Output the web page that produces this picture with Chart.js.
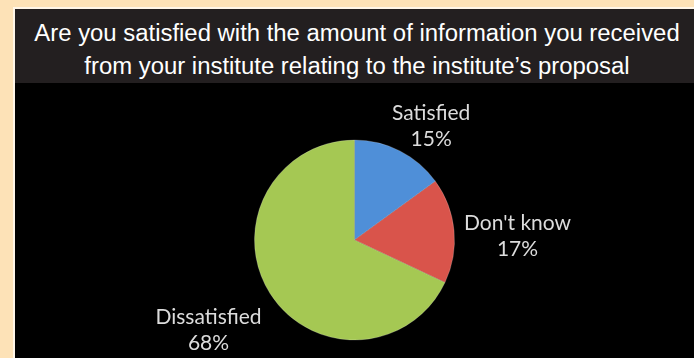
<!DOCTYPE html>
<html>
<head>
<meta charset="utf-8">
<script src="https://cdn.jsdelivr.net/npm/chart.js@4"></script>
<style>
  html, body { margin: 0; padding: 0; }
  body { width: 694px; height: 358px; background: #fde2b7; overflow: hidden; position: relative; }
  #panel { position: absolute; left: 13px; top: 7px; width: 700px; height: 400px;
           border-left: 2px solid #fff6e8; border-top: 2px solid #fff6e8; box-sizing: border-box;
           box-shadow: inset 1px 1px 0 #6e6a66; }
  #titleBand { position: absolute; left: 15px; top: 9px; right: 0; height: 74px; background: #231f20; }
  .tl { position: absolute; left: 357px; white-space: nowrap; color: #fff;
        font-family: "Liberation Sans", Arial, sans-serif; font-size: 23px; line-height: 23px;
        transform-origin: center; }
  #plot { position: absolute; left: 15px; top: 83px; width: 679px; height: 275px; background: #000; }
  #plot canvas { filter: blur(0.5px); }
</style>
</head>
<body>
<div id="panel"></div>
<div id="titleBand"></div>
<div class="tl" id="line1" style="top:22px">Are you satisfied with the amount of information you received</div>
<div class="tl" id="line2" style="top:55px">from your institute relating to the institute’s proposal</div>
<div id="plot"><canvas id="pieChart" width="679" height="275"></canvas></div>

<script>
// Survey answers
const categories = ['Satisfied', "Don't know", 'Dissatisfied'];
const percentages = [15, 17, 68];
const sliceColors = ['#4f8fd8', '#d9544b', '#a5c853'];

const LINE_H = 26;

// squeeze the title lines to the band width (the font is a condensed face)
(function fitTitle() {
  const l1 = document.getElementById('line1');
  const l2 = document.getElementById('line2');
  const s = 645 / l1.offsetWidth;
  [l1, l2].forEach(el => { el.style.transform = 'translateX(-50%) scaleX(' + s + ')'; });
})();

function shade(hex, amt) {
  const n = parseInt(hex.slice(1), 16);
  const c = [(n >> 16) & 255, (n >> 8) & 255, n & 255].map(v =>
    Math.max(0, Math.min(255, Math.round(amt >= 0 ? v + (255 - v) * amt : v * (1 + amt)))));
  return 'rgb(' + c.join(',') + ')';
}

// slice fill: flat centre, light bevel near the rim
function sliceFill(context) {
  const base = sliceColors[context.dataIndex];
  const arc = context.element;
  if (!arc || !arc.outerRadius) return base;
  const { x, y, outerRadius } = arc;
  const g = context.chart.ctx.createRadialGradient(x, y, 0, x, y, outerRadius);
  g.addColorStop(0, base);
  g.addColorStop(0.82, base);
  g.addColorStop(0.95, shade(base, 0.12));
  g.addColorStop(1, shade(base, -0.15));
  return g;
}

const clamp1 = v => Math.max(-1, Math.min(1, v));

// category name and percentage outside each slice
const sliceLabels = {
  id: 'sliceLabels',
  afterDatasetsDraw(chart) {
    const ctx = chart.ctx;
    const meta = chart.getDatasetMeta(0);
    ctx.save();
    ctx.font = '21px Lato, "Open Sans", sans-serif';
    ctx.fillStyle = '#dcdcdc';
    ctx.textAlign = 'center';
    ctx.textBaseline = 'middle';
    meta.data.forEach((arc, i) => {
      const { x, y, startAngle, endAngle, outerRadius } =
        arc.getProps(['x', 'y', 'startAngle', 'endAngle', 'outerRadius'], true);
      const mid = (startAngle + endAngle) / 2;
      const lines = [categories[i], percentages[i] + '%'];
      const w = Math.max(...lines.map(t => ctx.measureText(t).width));
      const h = lines.length * LINE_H;
      const ax = x + Math.cos(mid) * (outerRadius + 10);
      const ay = y + Math.sin(mid) * (outerRadius + 10);
      const cx = ax + clamp1(Math.cos(mid) * 1.5) * w / 2;
      const cy = ay + clamp1(Math.sin(mid) * 1.5) * h / 2 + 10;
      lines.forEach((t, k) => ctx.fillText(t, cx, cy + (k - (lines.length - 1) / 2) * LINE_H));
    });
    ctx.restore();
  }
};

new Chart(document.getElementById('pieChart'), {
  type: 'pie',
  data: {
    labels: categories,
    datasets: [{
      data: percentages,
      backgroundColor: sliceFill,
      borderColor: 'rgba(255,255,255,0.2)',
      borderWidth: 1,
      radius: 100
    }]
  },
  options: {
    responsive: false,
    animation: false,
    layout: { padding: { top: 39 } },
    plugins: { legend: { display: false }, tooltip: { enabled: false } }
  },
  plugins: [sliceLabels]
});
</script>
</body>
</html>
